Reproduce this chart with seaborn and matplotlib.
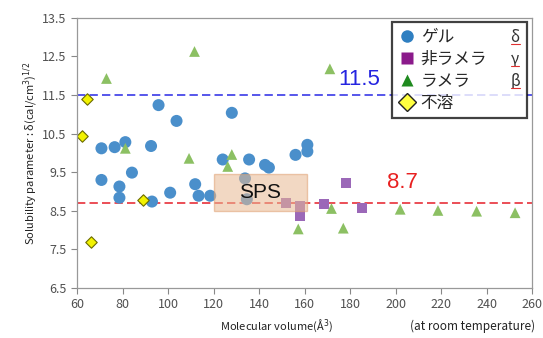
import matplotlib
matplotlib.use("Agg")
import matplotlib.pyplot as plt
import seaborn as sns
import pandas as pd
from matplotlib.patches import Rectangle
from matplotlib.lines import Line2D

# ----- data -----
gel_x = [95.8, 103.7, 128.0, 70.7, 76.5, 81.2, 92.5, 70.7, 84.1, 78.6, 78.6, 92.9, 100.9,
         124.0, 135.6, 142.6, 144.3, 156.0, 161.2, 161.2, 111.9, 113.4, 118.5, 133.8, 134.6]
gel_y = [11.24, 10.83, 11.04, 10.12, 10.15, 10.28, 10.18, 9.30, 9.49, 9.13, 8.84, 8.74, 8.97,
         9.83, 9.83, 9.69, 9.62, 9.95, 10.21, 10.04, 9.19, 8.89, 8.89, 9.34, 8.80]

nonlam_x = [151.7, 158.0, 158.0, 168.6, 178.0, 185.3]
nonlam_y = [8.70, 8.63, 8.36, 8.67, 9.22, 8.58]

lam_x = [72.9, 111.6, 171.1, 81.2, 109.2, 128.0, 126.2, 157.2, 171.8, 177.0, 202.0, 218.6, 235.6, 252.5]
lam_y = [11.93, 12.63, 12.18, 10.12, 9.86, 9.96, 9.65, 8.03, 8.56, 8.05, 8.54, 8.51, 8.49, 8.45]

insol_x = [64.4, 62.2, 88.8, 66.3]
insol_y = [11.41, 10.44, 8.78, 7.70]

groups = ["ゲル", "非ラメラ", "ラメラ", "不溶"]
phase_labels = ["δ", "γ", "β", ""]
upper_sp = 11.5
lower_sp = 8.7
sps_x = (120, 161)
sps_y = (8.5, 9.45)

x_ticks = list(range(60, 261, 20))
y_ticks = [6.5, 7.5, 8.5, 9.5, 10.5, 11.5, 12.5, 13.5]

frames = []
for g, xs, ys in zip(groups, [gel_x, nonlam_x, lam_x, insol_x], [gel_y, nonlam_y, lam_y, insol_y]):
    frames.append(pd.DataFrame({"vol": xs, "sp": ys, "group": g}))
df = pd.concat(frames, ignore_index=True)

# ----- style -----
sns.set_style("white")
plt.rcParams["font.family"] = ["Noto Sans CJK JP", "DejaVu Sans"]
num_font = ["Liberation Sans", "DejaVu Sans"]

point_style = {
    "ゲル": dict(marker="o", color="#4a8fcb", s=75, edgecolor="none"),
    "非ラメラ": dict(marker="s", color="#9b68b8", s=52, edgecolor="none"),
    "ラメラ": dict(marker="^", color="#8cc063", s=60, edgecolor="none"),
    "不溶": dict(marker="D", color="#f2f200", s=34, edgecolor="#6b6b00", linewidth=0.8),
}
legend_style = {
    "ゲル": dict(marker="o", color="#2f7fc1", mec="none"),
    "非ラメラ": dict(marker="s", color="#8b1a8b", mec="none"),
    "ラメラ": dict(marker="^", color="#1f8a1f", mec="none"),
    "不溶": dict(marker="D", color="#ffff40", mec="#222222", mew=1.0),
}

fig = plt.figure(figsize=(5.43, 3.38), dpi=100)
ax = fig.add_axes([0.142, 0.148, 0.838, 0.799])

# SPS region
ax.add_patch(Rectangle((sps_x[0], sps_y[0]), sps_x[1] - sps_x[0], sps_y[1] - sps_y[0],
                       facecolor="#e9b993", alpha=0.55, edgecolor="#e0a070", linewidth=1.0, zorder=3))
ax.text((sps_x[0] + sps_x[1]) / 2, (sps_y[0] + sps_y[1]) / 2, "SPS", ha="center", va="center",
        fontsize=15, color="#111111", zorder=4, family=num_font)

for g in groups:
    sub = df[df["group"] == g]
    sns.scatterplot(data=sub, x="vol", y="sp", ax=ax, legend=False, zorder=2, **point_style[g])

ax.axhline(upper_sp, color="#3a3ae8", linestyle=(0, (5, 2.5)), linewidth=1.2, zorder=1)
ax.axhline(lower_sp, color="#e8303a", linestyle=(0, (5, 2.5)), linewidth=1.2, zorder=1)
ax.text(184, upper_sp + 0.12, "11.5", color="#2424e0", fontsize=16, ha="center", va="bottom",
        family=num_font)
ax.text(203, lower_sp + 0.25, "8.7", color="#e82020", fontsize=16, ha="center", va="bottom",
        family=num_font)

ax.set_xlim(60, 260)
ax.set_ylim(6.5, 13.5)
ax.set_xticks(x_ticks)
ax.set_yticks(y_ticks)
ax.tick_params(axis="both", direction="out", length=4, width=0.8, color="#888888",
               labelsize=9, labelcolor="#505050", bottom=True, left=True)
for sp in ax.spines.values():
    sp.set_color("#999999")
    sp.set_linewidth(0.9)

ax.set_xlabel("")
ax.set_ylabel("Solubility parameter : δ(cal/cm$^3$)$^{1/2}$", fontsize=8, color="#222222",
              labelpad=2)
fig.text(0.51, 0.035, "Molecular volume(Å$^3$)", fontsize=8, ha="center", va="center", color="#222222")
fig.text(0.985, 0.035, "(at room temperature)", fontsize=8.5, ha="right", va="center", color="#222222")

# legend: markers + group names, with phase letters as second column
handles = [Line2D([], [], linestyle="none", markersize=9, **legend_style[g]) for g in groups]
blanks = [Line2D([], [], linestyle="none") for _ in phase_labels]
leg = ax.legend(handles + blanks, groups + phase_labels, ncol=2, loc="upper left",
                bbox_to_anchor=(0.693, 0.985), frameon=True, fancybox=False, fontsize=12,
                handletextpad=0.3, handlelength=1.0, columnspacing=0.1, labelspacing=0.3,
                borderpad=0.4, borderaxespad=0)
leg.get_frame().set_edgecolor("#111111")
leg.get_frame().set_linewidth(1.6)
texts = leg.get_texts()
for t in texts[4:]:
    t.set_color("#333333")
    t.set_fontsize(11)

# red underline under the phase letters
fig.canvas.draw()
inv = fig.transFigure.inverted()
for t in texts[4:7]:
    bb = t.get_window_extent()
    (x0, y0), (x1, _) = inv.transform([(bb.x0, bb.y0), (bb.x1, bb.y1)])
    fig.add_artist(Line2D([x0, x1], [y0 + 0.006, y0 + 0.006], color="#e03030", linewidth=0.8))

fig.savefig("out.png", dpi=100)
